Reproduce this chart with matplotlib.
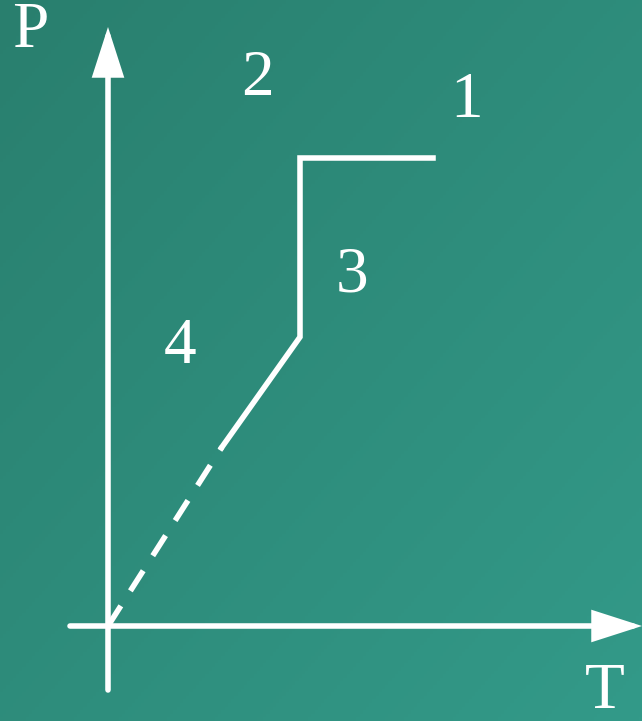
import matplotlib.pyplot as plt
import numpy as np

# path of the P-T curve (origin at axes crossing)
dash_T = [0, 114]
dash_P = [0, 179]
solid_T = [114, 192, 192, 325]
solid_P = [179, 289, 468, 468]

region_labels = ["1", "2", "3", "4"]
label_T = [359, 149, 244, 72]
label_P = [525, 547, 350, 279]

t_axis = (-38, 534)
p_axis = (-64, 599)

fig = plt.figure(figsize=(6.42, 7.21), dpi=100)
ax = fig.add_axes([0, 0, 1, 1])
ax.set_xlim(-108, 534)
ax.set_ylim(-95, 626)
ax.axis('off')

# green gradient background, darker top-left
gx, gy = np.meshgrid(np.linspace(0, 1, 200), np.linspace(0, 1, 200))
g = (gx + gy) / 2
c0 = np.array([41, 127, 110]) / 255
c1 = np.array([51, 154, 137]) / 255
img = c0 + (c1 - c0) * g[..., None]
ax.imshow(img, extent=(-108, 534, -95, 626), origin='upper', aspect='auto', zorder=0)

lw = 4.0
arrow = dict(arrowstyle='-|>,head_length=1.4,head_width=0.45', lw=lw, color='white',
             mutation_scale=20, shrinkA=0, shrinkB=0, joinstyle='miter')
ax.annotate('', xy=(0, p_axis[1]), xytext=(0, p_axis[0]), arrowprops=arrow)
ax.annotate('', xy=(t_axis[1], 0), xytext=(t_axis[0], 0), arrowprops=arrow)

ax.plot(dash_T, dash_P, color='white', lw=lw, dashes=(4.3, 3.2), dash_capstyle='butt')
ax.plot(solid_T, solid_P, color='white', lw=lw, solid_joinstyle='miter')

font = dict(family='Liberation Serif', fontsize=47, color='white', ha='center', va='center')
for lab, t, p in zip(region_labels, label_T, label_P):
    ax.text(t, p, lab, **font)
ax.text(-78, 595, 'P', **font)
ax.text(497, -66, 'T', **font)

fig.savefig('out.png', dpi=100)
